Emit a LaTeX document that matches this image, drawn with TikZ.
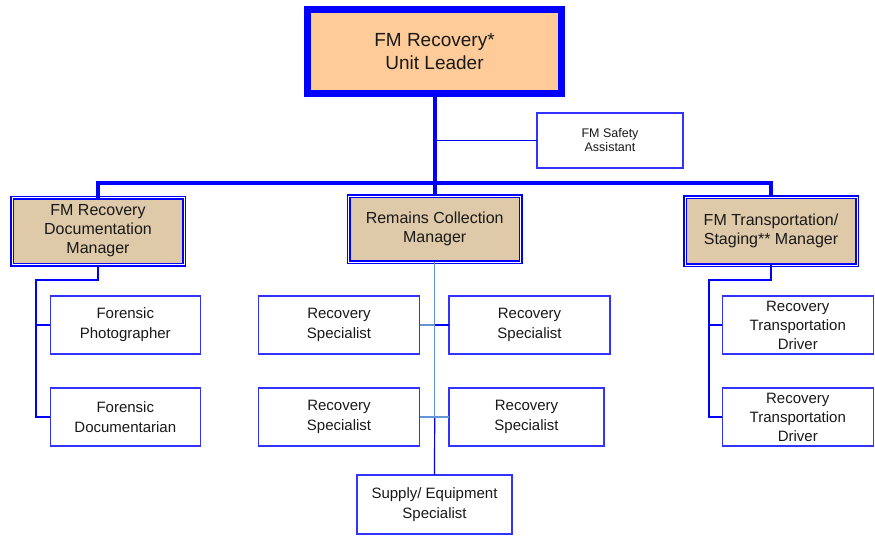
\documentclass[tikz,border=0pt]{standalone}
\usepackage{fontspec}
\setmainfont{Liberation Sans}
\definecolor{peach}{RGB}{255,204,153}
\definecolor{tan}{RGB}{222,201,168}
\definecolor{boxblue}{RGB}{51,51,255}
\definecolor{lightline}{RGB}{100,150,215}
\definecolor{txt}{RGB}{25,25,25}

\tikzstyle{leaderbox} = [rectangle, draw=blue, line width=7pt, fill=peach, minimum width=254pt, minimum height=84pt, align=center, text=txt, font=\fontsize{19}{23}\selectfont, outer sep=0pt]
\tikzstyle{manager} = [rectangle, draw=blue, line width=1.5pt, double=white, double distance=1pt, fill=tan, minimum width=172pt, minimum height=67pt, align=center, text=txt, font=\fontsize{16}{19}\selectfont, outer sep=0pt]
\tikzstyle{member} = [rectangle, draw=boxblue, line width=1.3pt, fill=white, minimum width=150pt, minimum height=58pt, align=center, text=txt, font=\fontsize{15}{20}\selectfont, outer sep=0pt]
\tikzstyle{bus} = [blue, line width=4pt]
\tikzstyle{branch} = [blue, line width=2pt]
\tikzstyle{link} = [blue, line width=1.2pt]
\tikzstyle{lightlink} = [lightline, line width=1.5pt]

\begin{document}
\begin{tikzpicture}[x=1pt, y=-1pt]
        \useasboundingbox (0,0) rectangle (875,538);

        \node (leader) [leaderbox] at (434.5,51.5) {FM Recovery*\\Unit Leader};
        \node (safety) [member, minimum width=146pt, minimum height=55pt, font=\fontsize{12.5}{14}\selectfont] at (610,140.5) {FM Safety\\Assistant};

        \node (docmgr) [manager] at (98,231) {FM Recovery\\Documentation\\Manager};
        \node (remmgr) [manager, minimum height=66pt] at (434.7,229) {Remains Collection\\Manager};
        \node (trmgr) [manager, minimum height=68pt] at (771,231) {FM Transportation/\\Staging** Manager};

        \node (photo) [member] at (125.3,325) {Forensic\\Photographer};
        \node (docum) [member] at (125.3,417) {Forensic\\Documentarian};

        \node (rsa) [member, minimum width=161pt] at (339,325) {Recovery\\Specialist};
        \node (rsb) [member, minimum width=161pt] at (529.5,325) {Recovery\\Specialist};
        \node (rsc) [member, minimum width=161pt] at (339,417) {Recovery\\Specialist};
        \node (rsd) [member, minimum width=155pt] at (526.5,417) {Recovery\\Specialist};
        \node (supply) [member, minimum width=155pt, minimum height=59pt] at (434.5,504.5) {Supply/ Equipment\\Specialist};

        \node (drva) [member, minimum width=151pt, font=\fontsize{15}{19}\selectfont] at (797.8,325) {Recovery\\Transportation\\Driver};
        \node (drvb) [member, minimum width=151pt, font=\fontsize{15}{19}\selectfont] at (797.8,417) {Recovery\\Transportation\\Driver};

        \coordinate (bar) at (434.5,183);
        \coordinate (docturn) at (36,280);
        \coordinate (trturn) at (709,280);

        % leader to managers
        \draw [bus] (leader.south) -- (leader.south |- remmgr.north);
        \draw [bus] (docmgr.north) |- (bar) -| (trmgr.north);
        \draw [link] (leader.south |- safety.west) -- (safety.west);

        % documentation team
        \draw [branch] (docmgr.south) |- (docturn) |- (docum.west);
        \draw [branch] (docturn |- photo.west) -- (photo.west);

        % remains collection team
        \draw [lightlink] (remmgr.south) -- (remmgr.south |- rsc.east);
        \draw [link] (remmgr.south |- rsc.east) -- (supply.north);
        \draw [lightlink] (rsa.east) -- (rsa.east -| supply.north);
        \draw [link] (rsa.east -| supply.north) -- (rsb.west);
        \draw [lightlink] (rsc.east) -- (rsd.west);

        % transportation team
        \draw [branch] (trmgr.south) |- (trturn) |- (drvb.west);
        \draw [branch] (trturn |- drva.west) -- (drva.west);
\end{tikzpicture}
\end{document}
